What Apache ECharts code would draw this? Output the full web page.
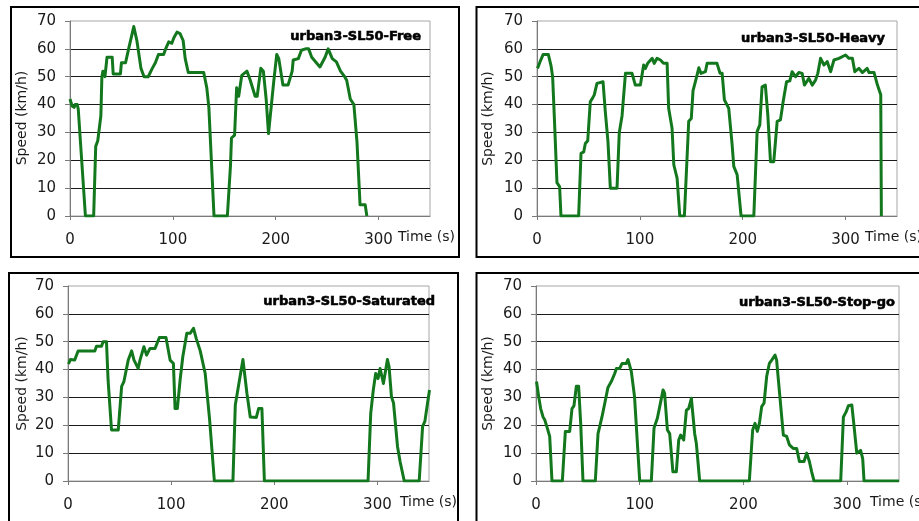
<!DOCTYPE html>
<html>
<head>
<meta charset="utf-8">
<script src="https://cdn.jsdelivr.net/npm/echarts@6/dist/echarts.min.js"></script>
<style>
html,body{margin:0;padding:0;background:#fff;}
#chart{width:919px;height:521px;}
</style>
</head>
<body>
<div id="chart"></div>
<script>
// ---- data: [time (s), speed (km/h)] ----
const panelTitles = ['urban3-SL50-Free', 'urban3-SL50-Heavy', 'urban3-SL50-Saturated', 'urban3-SL50-Stop-go'];
const xTicks = [0, 100, 200, 300];
const yTicks = [0, 10, 20, 30, 40, 50, 60, 70];
const xAxisName = 'Time (s)';
const yAxisName = 'Speed (km/h)';

const freeSpeed = [[0,42],[2,39.5],[4,39],[5,40],[7,40],[8,38.5],[9,39],[15,0],[23,0],[25,25],[27,27],[28,27],[30,36],[31,50],[32,52],[34,50],[36,57],[41,57],[42,51],[49,51],[50,55],[54,55],[57,60],[62,68],[65,63],[69,53],[72,50],[76,50],[80,53],[83,55],[86,58],[91,58],[93,60],[96,62.5],[99,62],[101,64],[104,66],[107,65.5],[110,63],[112,56.5],[115,51.5],[130,51.5],[133,46],[135,39],[140,0],[153,0],[156,18],[157,28],[160,29],[162,46],[164,43],[167,50.5],[172,52],[175,49],[180,43],[182,43],[185.5,53],[188,52],[190.7,42],[193,29.6],[194.5,29.6],[198,48],[201,58],[203,56.5],[207,47],[212,47],[216,52],[217,56],[222,56.5],[225,59.5],[229,60],[232,60],[235,57],[243,53.5],[248,57],[251,60],[255,56.5],[259,55.3],[263,52],[267,50],[269,48.7],[272.5,42],[276,40],[279,26.6],[282,4],[287,4],[288.6,0]];

const heavySpeed = [[0.5,53],[3,55.4],[6,58],[11,58],[13.6,54],[15.2,50],[16.8,36],[19.4,12],[22,10.5],[23.3,0],[40.5,0],[42.8,22.5],[45.4,23],[47,26],[49.3,27],[51.8,41],[54,42.3],[55.7,43.5],[58.3,47.6],[60,48.2],[64.2,48.2],[66.4,37.5],[69,26.7],[71.3,10],[77.8,10],[80,30],[82.7,36],[86,51.2],[92.4,51.2],[95.6,47],[100.5,47],[103.7,54.2],[105.4,53],[107.6,54.8],[112,56.6],[114,54.8],[116.7,56.6],[120,56],[123,54.8],[126.5,54.8],[128,38.7],[131.3,31.5],[133,18.4],[136.2,13.6],[138.8,0],[143.3,0],[147.5,34],[150,35],[151.7,45],[154,48.2],[155.6,50.6],[157.3,53.2],[159.5,51.2],[163.7,51.8],[165.4,54.8],[175,54.8],[178,51.2],[180,51.2],[182.2,41.7],[186.4,38.7],[189.7,25.6],[191.3,17.8],[194.6,14.8],[198.4,0],[210.8,0],[214,30.3],[216.6,32.7],[218.8,46.4],[222,47],[224.4,36.3],[227,19.5],[230.2,19.5],[233.5,34],[236.7,34.5],[239.3,41],[242.6,48.2],[245.8,48.5],[248,51.8],[251.3,50],[254.6,51.5],[257.8,51.2],[260,47],[264.3,49.4],[267.6,47],[270.8,48.8],[273,51.2],[275.7,56.6],[279,54.2],[282.2,55.4],[285.5,51.8],[288.7,56],[293.6,56.6],[300,57.8],[303.3,56.6],[306.6,56.6],[309,51.8],[313,53],[316.3,51.5],[321,53],[322.8,51.5],[327.7,51.5],[331,47],[334.2,43.5],[334.8,0]];

const saturatedSpeed = [[0.5,42],[2.3,43.6],[6.5,43.4],[9.8,46.7],[26,46.7],[27.6,48.4],[32.5,48.4],[34,50],[37.3,50],[38.9,36],[42.2,18.3],[48.7,18.3],[52,34],[54.2,35.7],[58.4,43.4],[61.7,46.7],[64,43.4],[68,40.4],[69.8,43.4],[73.6,48.2],[76.2,45.2],[79.5,47.6],[84.4,47.6],[88.6,51.5],[95,51.5],[99,43.4],[102.2,42.2],[103.8,26],[106,26],[108.7,36.3],[111.3,44.6],[115.2,53],[118.4,53],[121.7,54.8],[124.3,51.2],[128.2,46.7],[133,38.6],[137.3,22],[141.9,0],[159.9,0],[162.2,27.3],[163.8,28],[169.6,43.6],[170.5,43.6],[173.5,31.4],[176.7,23],[182.6,22.8],[184.8,26],[188,26],[190.4,0],[290.9,0],[293.5,24.3],[296,32.7],[298.3,38.6],[300.6,36.8],[302.6,40.4],[305.8,35],[309.7,43.6],[311.3,41],[313.6,30.3],[315.6,28],[319.5,12.3],[322,6.9],[326,0],[340.5,0],[343.8,19.6],[346,21.4],[348.6,28],[350.5,32.7]];

const stopGoSpeed = [[0.5,35.7],[2.6,30.3],[4.5,26],[6.8,23],[8.4,22],[10.9,19],[13.2,16],[15.4,0],[25.4,0],[28.3,17.8],[32.5,17.8],[34.7,26],[36.6,27],[38.9,34],[41.1,34],[43.1,20.7],[45.3,0],[57.2,0],[59.8,17],[61.4,19.5],[63.6,23],[66.9,29],[69.4,33.6],[72.6,35.7],[75.9,38.6],[77.5,40.4],[80.7,40.4],[83,42.2],[87.1,42.2],[88.7,43.6],[91.9,39.3],[95,30.3],[100,0],[111.2,0],[113.8,19],[117,22.5],[119.3,26.7],[122.5,32.7],[124,31.5],[126.7,18.3],[128.9,17],[132,3.3],[135.3,3.3],[137.6,14.7],[139.5,16.5],[142.4,14.7],[145,25.4],[147.2,26],[149.8,29.7],[151.4,29.5],[153,17],[154.6,13.5],[157.8,0],[205.7,0],[208.9,18.3],[211.2,20.7],[213.4,17.8],[215.4,20.7],[217.6,26.7],[219.9,28],[222.4,37.5],[225,42.2],[227.3,43.4],[230.5,45.2],[232,43.4],[233.7,36.3],[235.3,35.7],[238.5,16.5],[241.7,16],[244.3,13],[248,11.7],[251.3,11.7],[254,7],[258.4,7],[261,10],[263.6,7],[265.8,3.3],[268.1,0],[293.8,0],[296.4,23],[299,24.8],[301.2,27],[304.5,27.3],[306.7,19.5],[309.3,10],[313,11],[315,8],[316.3,0],[350,0]];

const panelData = [freeSpeed, heavySpeed, saturatedSpeed, stopGoSpeed];

// ---- layout ----
const grids = [
  {left: 70, top: 21, width: 360, height: 195},
  {left: 537, top: 21, width: 360, height: 195},
  {left: 68, top: 286, width: 361, height: 195},
  {left: 536, top: 286, width: 363, height: 195}
];
const frames = [
  {x: 11, y: 7, width: 448, height: 250},
  {x: 476.5, y: 7, width: 500, height: 250},
  {x: 9, y: 273, width: 449, height: 300},
  {x: 476.5, y: 273, width: 500, height: 300}
];
const titlePos = [[421, 36.5], [885, 39], [435, 301.5], [895, 302.5]];
const timePos = [[398, 237], [865, 237.5], [400, 502.5], [870, 502.5]];
const speedPos = [[22, 118], [488, 118.5], [22, 383.5], [488, 383.5]];

const FONT = '"DejaVu Sans", Verdana, sans-serif';
const LINE_COLOR = '#13781d';

const chart = echarts.init(document.getElementById('chart'), null, {renderer: 'canvas'});

const option = {
  backgroundColor: '#fff',
  animation: false,
  grid: grids.map(g => Object.assign({show: true, borderColor: '#a6a6a6', borderWidth: 1, backgroundColor: 'transparent', containLabel: false}, g)),
  xAxis: grids.map((g, i) => ({
    type: 'value', gridIndex: i, min: 0, max: 350, interval: 100,
    axisLine: {show: true, lineStyle: {color: '#7a7a7a', width: 1}},
    axisTick: {show: true, length: 4, customValues: xTicks, lineStyle: {color: '#7a7a7a'}},
    axisLabel: {customValues: xTicks, margin: 17, fontSize: 15, color: '#1a1a1a', fontFamily: FONT},
    splitLine: {show: false}
  })),
  yAxis: grids.map((g, i) => ({
    type: 'value', gridIndex: i, min: 0, max: 70, interval: 10,
    axisLine: {show: true, lineStyle: {color: '#7a7a7a', width: 1}},
    axisTick: {show: true, length: 5, lineStyle: {color: '#7a7a7a'}},
    axisLabel: {margin: 14, fontSize: 15, color: '#1a1a1a', fontFamily: FONT},
    splitLine: {show: true, showMinLine: false, showMaxLine: false, lineStyle: {color: '#1a1a1a', width: 1}}
  })),
  series: panelData.map((d, i) => ({
    type: 'line', xAxisIndex: i, yAxisIndex: i, data: d,
    showSymbol: false, symbol: 'none', clip: true,
    lineStyle: {color: LINE_COLOR, width: 3, join: 'round'}
  })),
  graphic: [].concat(
    frames.map(f => ({type: 'rect', shape: f, style: {fill: null, stroke: '#000', lineWidth: 2}, silent: true, z: 10})),
    panelTitles.map((t, i) => ({
      type: 'text', x: titlePos[i][0], y: titlePos[i][1], silent: true, z: 10,
      style: {text: t, textAlign: 'right', textVerticalAlign: 'middle', fill: '#000',
              font: 'bold 13px ' + FONT, stroke: '#000', lineWidth: 0.6}
    })),
    timePos.map(p => ({
      type: 'text', x: p[0], y: p[1], silent: true, z: 10,
      style: {text: xAxisName, textAlign: 'left', textVerticalAlign: 'middle', fill: '#1a1a1a', font: '14px ' + FONT}
    })),
    speedPos.map(p => ({
      type: 'text', x: p[0], y: p[1], rotation: Math.PI / 2, silent: true, z: 10,
      style: {text: yAxisName, textAlign: 'center', textVerticalAlign: 'middle', fill: '#1a1a1a', font: '14px ' + FONT}
    }))
  )
};
chart.setOption(option);
</script>
</body>
</html>
